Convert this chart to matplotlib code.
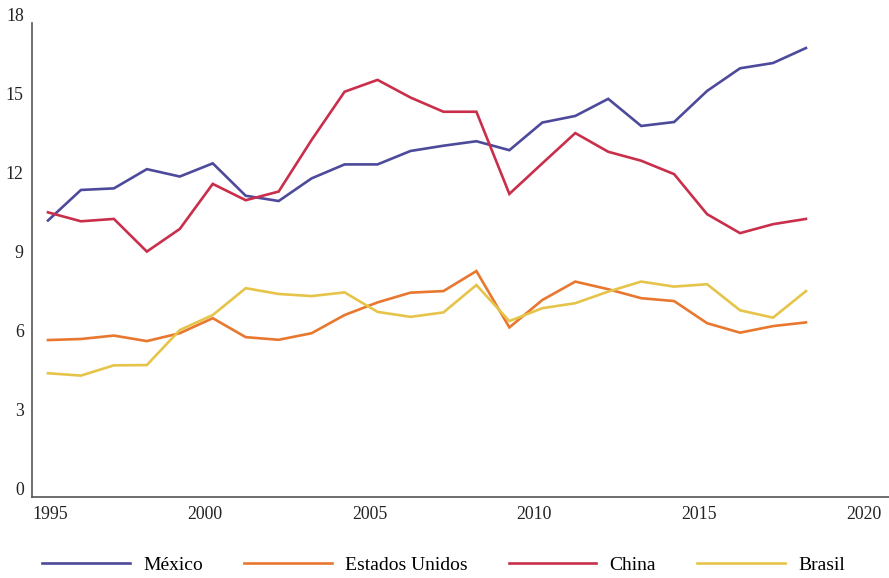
import numpy as np
import matplotlib
matplotlib.use("Agg")
import matplotlib.pyplot as plt
from matplotlib.transforms import ScaledTranslation

plt.rcParams['font.family'] = ['Liberation Serif', 'DejaVu Serif']

# datos
anios = list(range(1995, 2019))
mexico = [10.5, 11.66, 11.72, 12.45, 12.17, 12.67, 11.44, 11.24, 12.10, 12.63, 12.63, 13.14,
          13.34, 13.51, 13.17, 14.22, 14.47, 15.12, 14.09, 14.24, 15.42, 16.28, 16.48, 17.05]
eeuu = [5.96, 6.00, 6.13, 5.92, 6.22, 6.79, 6.07, 5.97, 6.22, 6.91, 7.39, 7.76,
        7.82, 8.58, 6.44, 7.48, 8.18, 7.89, 7.55, 7.44, 6.60, 6.24, 6.49, 6.63]
china = [10.81, 10.47, 10.56, 9.32, 10.18, 11.89, 11.27, 11.60, 13.56, 15.39, 15.84, 15.17,
         14.63, 14.63, 11.51, 12.67, 13.82, 13.11, 12.77, 12.26, 10.74, 10.02, 10.36, 10.56]
brasil = [4.70, 4.61, 5.00, 5.01, 6.34, 6.91, 7.93, 7.71, 7.63, 7.77, 7.03, 6.84,
          7.01, 8.05, 6.68, 7.17, 7.36, 7.80, 8.18, 7.99, 8.08, 7.09, 6.81, 7.82]

series = ["México", "Estados Unidos", "China", "Brasil"]
colores = ["#4e4a9b", "#e8772f", "#c92f4b", "#e6c44a"]
x_ticks = [1995, 2000, 2005, 2010, 2015, 2020]
y_ticks = [0, 3, 6, 9, 12, 15, 18]

fig = plt.figure(figsize=(8.89, 5.78), dpi=100)
ax = fig.add_axes([32/889, 1 - 497/578, 857/889, 474/578])

for nombre, datos, c in zip(series, [mexico, eeuu, china, brasil], colores):
    ax.plot(anios, datos, color=c, lw=1.9, label=nombre, solid_joinstyle='miter')

ax.set_xlim(1994.515, 2020.52)
ax.set_ylim(0, 18)
ax.set_xticks(x_ticks)
ax.set_yticks(y_ticks)
ax.set_xticklabels([str(t) for t in x_ticks])
ax.set_yticklabels([str(t) for t in y_ticks])
ax.tick_params(length=0, labelsize=12.8, colors='#222222')
ax.tick_params(axis='x', pad=6.5)
ax.tick_params(axis='y', pad=6)

for s in ['top', 'right']:
    ax.spines[s].set_visible(False)
for s in ['left', 'bottom']:
    ax.spines[s].set_color('#555555')
    ax.spines[s].set_linewidth(1.2)

# etiquetas del eje x un poco a la izquierda de los puntos
for i, lab in enumerate(ax.get_xticklabels()):
    if i == 0:
        lab.set_ha('left')
        lab.set_transform(lab.get_transform() + ScaledTranslation(-16/100, 0, fig.dpi_scale_trans))
    else:
        lab.set_transform(lab.get_transform() + ScaledTranslation(-8/100, 0, fig.dpi_scale_trans))

# etiquetas del eje y por encima de la posicion
for lab in ax.get_yticklabels():
    lab.set_va('baseline')
    lab.set_transform(lab.get_transform() + ScaledTranslation(0, 2/100, fig.dpi_scale_trans))

h, l = ax.get_legend_handles_labels()
fig.legend(h, l, loc='center', bbox_to_anchor=(0.499, 1 - 565/578), ncol=4, frameon=False,
           fontsize=14, handlelength=4.5, handletextpad=0.7, columnspacing=2.1)

fig.savefig("out.png", dpi=100)
